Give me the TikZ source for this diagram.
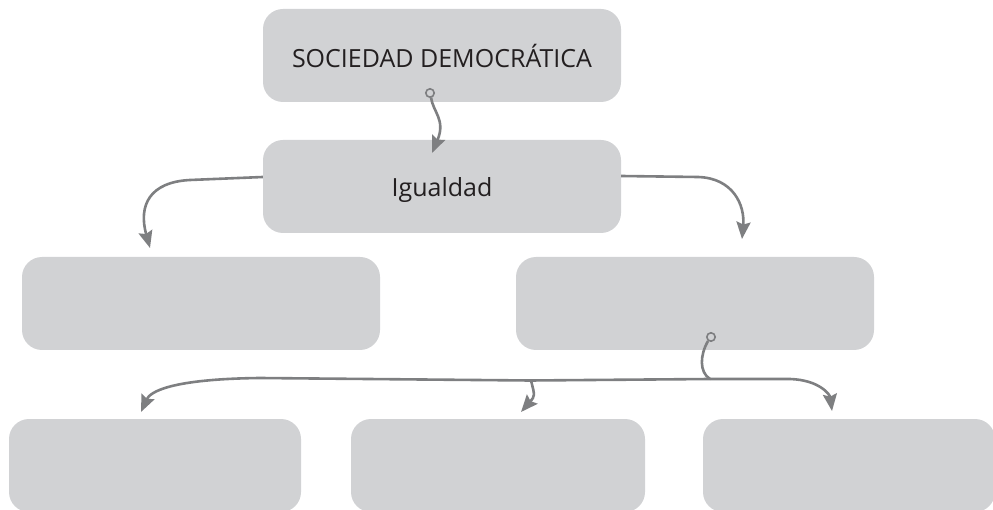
\documentclass[tikz,border=0pt]{standalone}
\usepackage{fontspec}
\setmainfont{Open Sans}
\usetikzlibrary{arrows.meta}
\definecolor{boxgray}{HTML}{D1D2D4}
\definecolor{linegray}{HTML}{7E7F81}
\definecolor{txt}{HTML}{231F20}
\tikzset{
  box/.style={fill=boxgray, draw=none, rounded corners=20pt, inner sep=0pt, font=\fontsize{25}{30}\selectfont, text=txt},
  conn/.style={draw=linegray, line width=2.6pt, -{Stealth[length=17pt,width=14pt,inset=2.5pt]}},
  ring/.style={draw=linegray, line width=1.6pt}
}
\begin{document}
\begin{tikzpicture}[x=1pt,y=-1pt]
\useasboundingbox (0,0) rectangle (993,510);
\begin{scope}
\clip (0,0) rectangle (993,510);
\node[box, minimum width=358pt, minimum height=93pt] (top) at (442,55.5) {SOCIEDAD DEMOCRÁTICA};
\node[box, minimum width=358pt, minimum height=93pt] (ig) at (442,186.5) {};
\node[font=\fontsize{25}{30}\selectfont, text=txt, inner sep=0pt] (igt) at (442,190) {Igualdad};
\node[box, minimum width=358pt, minimum height=93pt] (ml) at (201,303.5) {};
\node[box, minimum width=358pt, minimum height=93pt] (mr) at (695,303.5) {};
\node[box, minimum width=292pt, minimum height=93pt] (b1) at (155,465.5) {};
\node[box, minimum width=294pt, minimum height=93pt] (b2) at (498,465.5) {};
\node[box, minimum width=292pt, minimum height=93pt] (b3) at (849,465.5) {};
\end{scope}
% connector top -> Igualdad
\coordinate (r1) at (430,93);
\coordinate (t1) at (432,153);
\draw[conn] (431,97.5) .. controls (433,112) and (446,120) .. (t1);
\draw[ring] (r1) circle (4.2pt);
% Igualdad -> mid left
\coordinate (t2) at (150,248);
\draw[conn] ([yshift=9.5pt]ig.west) -- (190,180) .. controls (150,182) and (138,205) .. (t2);
% Igualdad -> mid right
\coordinate (t3) at (742,239);
\draw[conn] ([yshift=10.5pt]ig.east) -- (698,177) .. controls (733,178) and (745,205) .. (t3);
% mid right -> bottom row
\coordinate (r4) at (711,337);
\coordinate (j) at (710,379);
\coordinate (t4) at (832,411);
\coordinate (t5) at (141,412);
\coordinate (t6) at (521,412);
\draw[draw=linegray, line width=2.6pt] (708,341) .. controls (700,355) and (699,372) .. (j);
\draw[conn] (j) -- (790,379) .. controls (820,380) and (830,395) .. (t4);
\draw[conn] (j) -- (530,380.5) -- (260,378) .. controls (170,379) and (150,392) .. (t5);
\draw[conn] (531,380.5) .. controls (535,396) .. (t6);
\draw[ring] (r4) circle (4.2pt);
\end{tikzpicture}
\end{document}
